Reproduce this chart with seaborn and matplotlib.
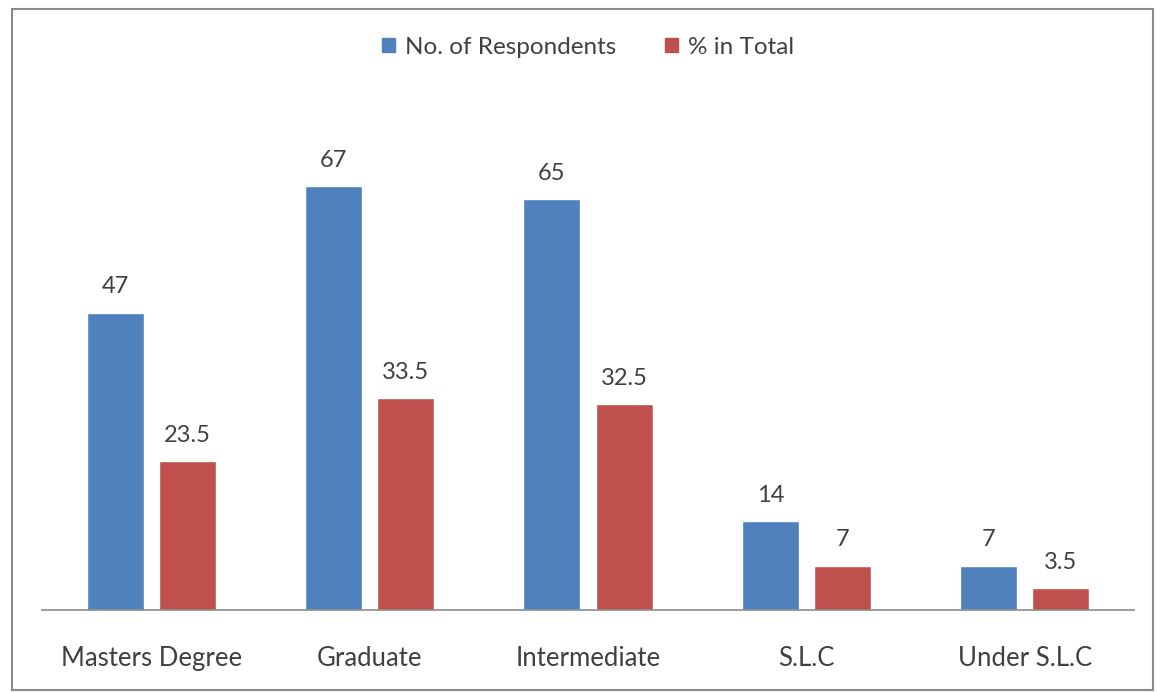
import matplotlib
matplotlib.use("Agg")
import matplotlib.pyplot as plt
import pandas as pd
import seaborn as sns
from matplotlib.patches import Rectangle

categories = ["Masters Degree", "Graduate", "Intermediate", "S.L.C", "Under S.L.C"]
respondents = [47, 67, 65, 14, 7]
pct_total = [23.5, 33.5, 32.5, 7, 3.5]
series_names = ["No. of Respondents", "% in Total"]

df = pd.DataFrame({
    "category": categories * 2,
    "value": respondents + pct_total,
    "series": [series_names[0]] * len(categories) + [series_names[1]] * len(categories),
})

sns.set_style("white")
plt.rcParams['font.family'] = ['Lato', 'DejaVu Sans']

fig = plt.figure(figsize=(11.57, 6.92), dpi=100)
ax = fig.add_axes([42 / 1157, 82 / 692, 1092 / 1157, 506 / 692])

sns.barplot(data=df, x="category", y="value", hue="series", order=categories,
            hue_order=series_names, palette=["#4F81BD", "#C0504D"],
            width=0.66, gap=0.21, saturation=1, ax=ax, legend=False)

ax.set_ylim(0, 80)
ax.set_xlim(-0.5, len(categories) - 0.5)
ax.set_xlabel("")
ax.set_ylabel("")
ax.set_yticks([])
for s in ["top", "right", "left"]:
    ax.spines[s].set_visible(False)
ax.spines["bottom"].set_color("#8c8c8c")
ax.spines["bottom"].set_linewidth(1.2)
ax.tick_params(axis="x", length=0, pad=26, labelsize=18.5, colors="#404040")

for cont in ax.containers:
    ax.bar_label(cont, labels=[f"{v:g}" for v in cont.datavalues], padding=11,
                 fontsize=17, color="#404040")

handles = [Rectangle((0, 0), 1, 1, color=c) for c in ["#4F81BD", "#C0504D"]]
fig.legend(handles, series_names, loc="center", bbox_to_anchor=(0.508, 1 - 47 / 692),
           ncol=2, frameon=False, fontsize=17.5, handlelength=0.55, handleheight=0.55,
           columnspacing=2.0, handletextpad=0.4, labelcolor="#404040")

fig.patches.append(Rectangle((12 / 1157, 2 / 692), 1141 / 1157, 681 / 692,
                             transform=fig.transFigure, fill=False,
                             edgecolor="#8a8a8a", linewidth=1.5))

fig.savefig("out.png", dpi=100)
